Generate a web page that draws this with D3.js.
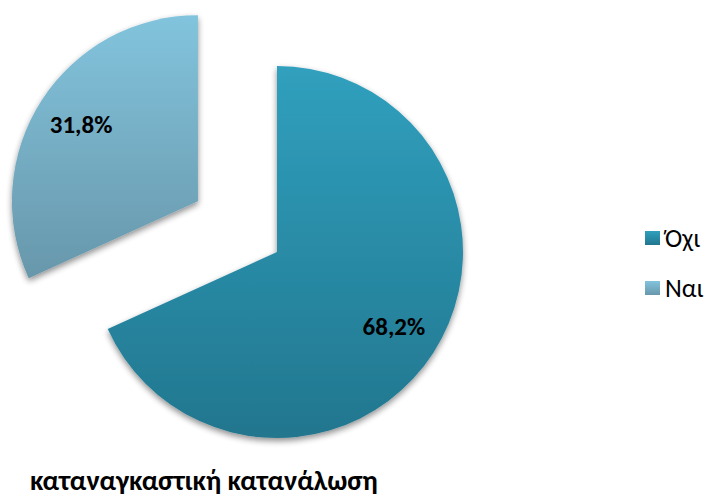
<!DOCTYPE html>
<html>
<head>
<meta charset="utf-8">
<script src="https://cdn.jsdelivr.net/npm/d3@7"></script>
<style>
  body { margin: 0; background: #fff; }
  svg { display: block; }
  text { font-family: Carlito, Calibri, "Open Sans", sans-serif; }
</style>
</head>
<body>
<div id="chart"></div>
<script>
// data
var categories = ["Όχι", "Ναι"];
var values = [68.2, 31.8];
var labels = ["68,2%", "31,8%"];
var title = "καταναγκαστική κατανάλωση";

var width = 709, height = 498;
var cx = 277, cy = 252, radius = 186;
var explode = [0, 94]; // pull-out distance per slice

// gradient stops (top, bottom) per slice
var topColors = ["#30a0be", "#82c4dd"];
var bottomColors = ["#22768e", "#6897ab"];

var svg = d3.select("#chart").append("svg")
    .attr("width", width)
    .attr("height", height);

var defs = svg.append("defs");

var shadow = defs.append("filter")
    .attr("id", "shadow")
    .attr("x", "-20%").attr("y", "-20%")
    .attr("width", "140%").attr("height", "140%");
shadow.append("feGaussianBlur").attr("in", "SourceAlpha").attr("stdDeviation", 3);
shadow.append("feOffset").attr("dx", 0).attr("dy", 3).attr("result", "off");
shadow.append("feComponentTransfer").append("feFuncA").attr("type", "linear").attr("slope", 0.45);
var merge = shadow.append("feMerge");
merge.append("feMergeNode");
merge.append("feMergeNode").attr("in", "SourceGraphic");

categories.forEach(function (c, i) {
    var g = defs.append("linearGradient")
        .attr("id", "grad" + i)
        .attr("x1", 0).attr("y1", 0).attr("x2", 0).attr("y2", 1);
    g.append("stop").attr("offset", "0%").attr("stop-color", topColors[i]);
    g.append("stop").attr("offset", "100%").attr("stop-color", bottomColors[i]);
});

var pie = d3.pie().sort(null).value(function (d) { return d; });
var arcs = pie(values);

var arc = d3.arc().innerRadius(0).outerRadius(radius);
var labelArc = d3.arc().innerRadius(139).outerRadius(139);

var slices = svg.selectAll("g.slice")
    .data(arcs)
    .enter().append("g")
    .attr("class", "slice")
    .attr("transform", function (d, i) {
        var a = (d.startAngle + d.endAngle) / 2;
        var dx = Math.sin(a) * explode[i], dy = -Math.cos(a) * explode[i];
        return "translate(" + (cx + dx) + "," + (cy + dy) + ")";
    });

slices.append("path")
    .attr("d", arc)
    .attr("fill", function (d, i) { return "url(#grad" + i + ")"; })
    .attr("filter", "url(#shadow)");

slices.append("text")
    .attr("transform", function (d) { return "translate(" + labelArc.centroid(d) + ")"; })
    .attr("text-anchor", "middle")
    .attr("dy", "0.3em")
    .style("font-size", "25px")
    .style("font-weight", "bold")
    .attr("fill", "#000")
    .text(function (d, i) { return labels[i]; });

// legend
var legend = svg.selectAll("g.legend")
    .data(categories)
    .enter().append("g")
    .attr("class", "legend")
    .attr("transform", function (d, i) { return "translate(645," + (231 + i * 50) + ")"; });

legend.append("rect")
    .attr("width", 15).attr("height", 14)
    .attr("fill", function (d, i) { return "url(#grad" + i + ")"; });

legend.append("text")
    .attr("x", 20).attr("y", 7)
    .attr("dy", "0.35em")
    .style("font-size", "26px")
    .attr("fill", "#000")
    .text(function (d) { return d; });

svg.append("text")
    .attr("x", 30).attr("y", 490)
    .style("font-size", "28px")
    .style("font-weight", "bold")
    .attr("fill", "#000")
    .text(title);
</script>
</body>
</html>
